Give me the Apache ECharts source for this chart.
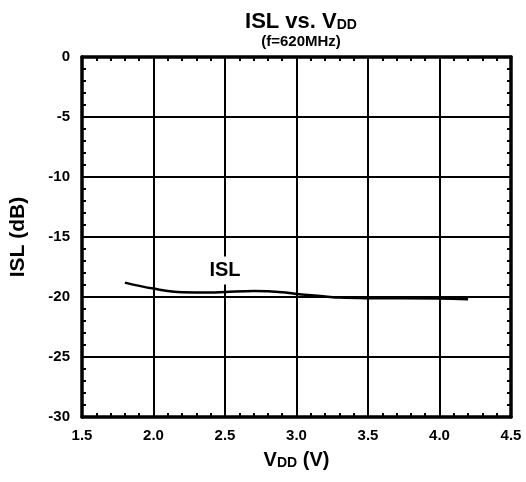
<!DOCTYPE html>
<html><head><meta charset="utf-8">
<script src="https://cdn.jsdelivr.net/npm/echarts@6/dist/echarts.min.js"></script>
<style>html,body{margin:0;padding:0;background:#fff}#c{width:526px;height:482px}</style>
</head><body><div id="c"></div>
<script>
const vdd = [1.8, 2.0, 2.2, 2.4, 2.5, 2.7, 2.8, 2.9, 3.0, 3.2, 3.3, 3.5, 4.0, 4.2];
const isl = [-18.8, -19.3, -19.6, -19.62, -19.58, -19.5, -19.52, -19.6, -19.75, -19.95, -20.05, -20.1, -20.12, -20.18];
const seriesLabel = {name: 'ISL', x: 2.5, y: -17.8};
const xTicks = [1.5, 2.0, 2.5, 3.0, 3.5, 4.0, 4.5];
const yTicks = [0, -5, -10, -15, -20, -25, -30];

const F = 'Liberation Sans, Arial, sans-serif';
const chart = echarts.init(document.getElementById('c'));
const border = {show: true, onZero: false, lineStyle: {color: '#000', width: 3.5}};
const minor = {show: true, splitNumber: 5, length: 4, lineStyle: {color: '#000', width: 2}};
const tick = {show: false, inside: true};
chart.setOption({
  animation: false,
  backgroundColor: '#fff',
  title: [{
    text: 'ISL vs. V{s|DD}', left: 296, top: 6, textAlign: 'center',
    textStyle: {fontFamily: F, fontWeight: 'bold', fontSize: 22, color: '#000',
      rich: {s: {fontFamily: F, fontWeight: 'bold', fontSize: 14, color: '#000', padding: [7,0,0,0]}}}
  }, {
    text: '(f=620MHz)', left: 296, top: 29, textAlign: 'center',
    textStyle: {fontFamily: F, fontWeight: 'bold', fontSize: 15, color: '#000'}
  }],
  grid: {left: 80, right: 15, top: 57, bottom: 65},
  xAxis: [{
    type: 'value', min: 1.5, max: 4.5, interval: 0.5, position: 'bottom',
    axisLine: border, axisTick: tick, minorTick: minor,
    axisLabel: {color: '#000', fontFamily: F, fontWeight: 'bold', fontSize: 15, margin: 11,
      formatter: v => xTicks.includes(+v.toFixed(1)) ? v.toFixed(1) : ''},
    splitLine: {show: true, lineStyle: {color: '#000', width: 2}},
    name: 'V{s|DD} (V)', nameLocation: 'middle', nameGap: 33,
    nameTextStyle: {color: '#000', fontFamily: F, fontWeight: 'bold', fontSize: 20,
      rich: {s: {fontFamily: F, fontWeight: 'bold', fontSize: 14, color: '#000', padding: [6,0,0,0]}}}
  }, {
    type: 'value', min: 1.5, max: 4.5, interval: 0.5, position: 'top',
    axisLine: border, axisTick: tick, minorTick: minor,
    axisLabel: {show: false}, splitLine: {show: false}
  }],
  yAxis: [{
    type: 'value', min: -30, max: 0, interval: 5, position: 'left',
    axisLine: border, axisTick: tick, minorTick: minor,
    axisLabel: {color: '#000', fontFamily: F, fontWeight: 'bold', fontSize: 15, margin: 12,
      formatter: v => yTicks.includes(v) ? String(v) : ''},
    splitLine: {show: true, lineStyle: {color: '#000', width: 2}},
    name: 'ISL (dB)', nameLocation: 'middle', nameGap: 53, nameRotate: 90,
    nameTextStyle: {color: '#000', fontFamily: F, fontWeight: 'bold', fontSize: 21}
  }, {
    type: 'value', min: -30, max: 0, interval: 5, position: 'right',
    axisLine: border, axisTick: tick, minorTick: minor,
    axisLabel: {show: false}, splitLine: {show: false}
  }],
  series: [{
    type: 'line', smooth: 0.4, symbol: 'none', z: 3,
    data: vdd.map((v, i) => [v, isl[i]]),
    lineStyle: {color: '#000', width: 2.5}
  }, {
    type: 'scatter', symbolSize: 0, silent: true, z: 4,
    itemStyle: {opacity: 1},
    data: [[seriesLabel.x, seriesLabel.y]],
    label: {show: true, position: 'inside', formatter: seriesLabel.name, color: '#000',
      fontFamily: F, fontWeight: 'bold', fontSize: 20, backgroundColor: '#fff', padding: [4, 2]}
  }]
});
</script></body></html>
